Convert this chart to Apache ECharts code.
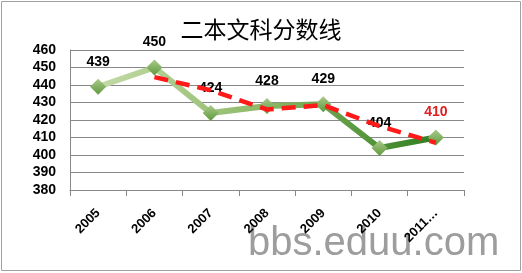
<!DOCTYPE html>
<html><head><meta charset="utf-8">
<script src="https://cdn.jsdelivr.net/npm/echarts@6/dist/echarts.min.js"></script>
<style>html,body{margin:0;padding:0;background:#fff}#c{width:522px;height:273px}</style>
</head><body><div id="c"></div>
<script>
var categories = ['2005','2006','2007','2008','2009','2010','2011…'];
var scores = [439,450,424,428,429,404,410];
var trend = [null,444.5,437,426,428.5,416.5,407];
var yTicks = {min:380,max:460,interval:10};

var chart = echarts.init(document.getElementById('c'));
var scoreData = scores.map(function(v,i){return i===scores.length-1?{value:v,label:{color:'#e02020'}}:v;});
chart.setOption({
  animation:false,
  title:{text:'二本文科分数线',left:'center',top:13,textStyle:{fontFamily:'Noto Sans CJK SC',fontWeight:'normal',fontSize:23,color:'#000'}},
  grid:{left:70,right:58,top:50,bottom:83},
  graphic:[
    {type:'rect',shape:{x:1.5,y:1.5,width:519,height:269},style:{fill:'none',stroke:'#a0a0a0',lineWidth:1}},
    {type:'text',left:248,top:224,z:0,style:{text:'bbs.eduu.com',font:'40px "Liberation Sans", Arial',fill:'#9d9d9d',shadowColor:'rgba(0,0,0,0.25)',shadowBlur:3,shadowOffsetX:1,shadowOffsetY:1}}
  ],
  xAxis:{type:'category',data:categories,boundaryGap:true,
    axisLine:{lineStyle:{color:'#888'}},axisTick:{show:true,length:6,lineStyle:{color:'#888'}},
    axisLabel:{rotate:45,fontWeight:'bold',fontSize:13,color:'#000',fontFamily:'Liberation Sans',margin:21}},
  yAxis:{type:'value',min:yTicks.min,max:yTicks.max,interval:yTicks.interval,
    axisLine:{show:true,lineStyle:{color:'#888'}},axisTick:{show:false},
    splitLine:{lineStyle:{color:'#888'}},
    axisLabel:{fontWeight:'bold',fontSize:14,color:'#000',fontFamily:'Liberation Sans',margin:14}},
  series:[
    {type:'line',data:scoreData,z:2,symbol:'diamond',symbolSize:16,
      lineStyle:{width:6,color:new echarts.graphic.LinearGradient(0,0,1,0,[{offset:0,color:'#c4dba8'},{offset:0.5,color:'#8cb866'},{offset:1,color:'#2e7d1e'}])},
      itemStyle:{color:new echarts.graphic.LinearGradient(0,0,0,1,[{offset:0,color:'#a9c98a'},{offset:1,color:'#5f9a3c'}]),borderWidth:0},
      label:{show:true,position:'top',distance:10,fontWeight:'bold',fontSize:14,color:'#000',fontFamily:'Liberation Sans'}
    },
    {type:'line',data:trend,z:3,symbol:'none',connectNulls:false,
      lineStyle:{width:4.5,color:'#ff1a1a',type:[14,8]}}
  ]
});
</script></body></html>
